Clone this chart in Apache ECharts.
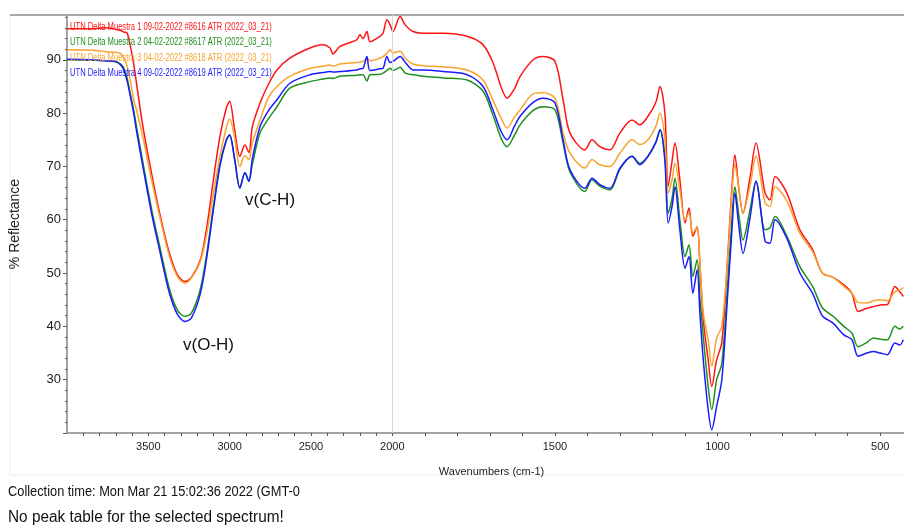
<!DOCTYPE html>
<html>
<head>
<meta charset="utf-8">
<title>UTN Delta Muestra ATR</title>
<script src="https://cdn.jsdelivr.net/npm/echarts@6.0.0/dist/echarts.min.js"></script>
<style>
  html, body { margin: 0; padding: 0; background: #fff; }
  #chart { width: 904px; height: 530px; }
</style>
</head>
<body>
<div id="chart"></div>
<script>
// wavenumbers (cm-1)
const wavenumbers = [
  4000, 3850, 3760, 3700, 3670, 3650, 3630, 3610, 3590, 3570,
  3530, 3480, 3430, 3370, 3320, 3275, 3235, 3180, 3140, 3100,
  3060, 3020, 3000, 2970, 2937, 2906, 2882, 2860, 2813, 2760,
  2709, 2630, 2506, 2426, 2383, 2365, 2322, 2217, 2199, 2180,
  2156, 2137, 2076, 2057, 2033, 2014, 1998, 1976, 1960, 1936,
  1905, 1844, 1770, 1721, 1690, 1665, 1647, 1625, 1607, 1567,
  1537, 1500, 1475, 1454, 1408, 1386, 1362, 1331, 1300, 1263,
  1239, 1214, 1190, 1177, 1162, 1152, 1140, 1131, 1116, 1100,
  1088, 1076, 1063, 1054, 1044, 1029, 1018, 1003, 987, 970,
  956, 947, 935, 922, 900, 882, 854, 839, 823, 787,
  747, 708, 678, 645, 612, 587, 568, 541, 521, 500,
  478, 455, 440, 429
];

// % reflectance per sample
const muestra1 = [
  95.8, 95.8, 96.0, 95.7, 95.5, 95.2, 95.0, 92.5, 89.3, 85.0,
  76.9, 68.7, 61.2, 53.7, 49.6, 48.4, 49.2, 52.5, 58.7, 67.5,
  75.6, 81.0, 82.2, 77.0, 71.9, 74.0, 72.6, 77.5, 81.9, 85.5,
  88.1, 90.3, 92.2, 92.8, 92.2, 91.1, 92.5, 93.8, 94.7, 94.0,
  95.3, 93.4, 94.4, 95.0, 97.5, 96.6, 95.3, 98.1, 96.5, 95.3,
  95.0, 95.0, 94.4, 92.8, 89.4, 84.8, 82.8, 84.5, 86.9, 90.0,
  90.6, 89.7, 82.5, 76.3, 73.1, 75.0, 73.7, 73.1, 76.3, 78.7,
  77.8, 79.4, 82.0, 85.0, 80.0, 66.2, 71.0, 74.4, 67.5, 59.4,
  62.2, 56.9, 58.7, 51.2, 41.2, 33.7, 28.7, 33.7, 37.0, 52.0,
  66.0, 72.2, 66.0, 61.2, 68.1, 74.4, 65.0, 63.7, 68.1, 65.0,
  58.1, 54.4, 50.0, 49.2, 47.8, 46.2, 42.8, 43.4, 43.7, 44.0,
  44.1, 47.5, 46.5, 45.6
];
const muestra2 = [
  90.0, 89.9, 89.8, 89.6, 89.2, 88.4, 86.5, 83.5, 80.5, 77.0,
  70.2, 62.0, 55.0, 47.0, 43.0, 41.9, 42.5, 47.0, 53.8, 62.5,
  70.5, 75.0, 75.9, 71.5, 65.9, 68.8, 67.2, 70.5, 76.3, 79.0,
  81.2, 84.7, 85.9, 86.4, 86.6, 86.5, 86.9, 87.1, 87.2, 87.2,
  86.0, 87.2, 87.3, 87.5, 88.0, 88.4, 88.0, 88.6, 87.5, 87.2,
  86.9, 86.6, 86.2, 84.1, 79.5, 75.2, 73.7, 75.8, 77.8, 80.5,
  81.2, 80.6, 74.4, 69.0, 65.3, 67.5, 66.3, 65.6, 69.5, 71.9,
  70.6, 71.9, 74.5, 76.9, 72.0, 61.2, 64.0, 67.8, 60.0, 53.1,
  55.3, 49.4, 52.5, 45.0, 38.1, 28.7, 24.4, 30.0, 33.0, 47.0,
  60.0, 66.2, 61.0, 56.2, 62.0, 67.2, 58.1, 58.5, 60.6, 56.9,
  51.2, 47.5, 43.5, 41.9, 40.0, 38.7, 36.2, 37.0, 37.8, 37.6,
  37.5, 40.0, 39.5, 40.0
];
const muestra3 = [
  91.9, 91.8, 91.5, 91.4, 91.2, 90.3, 88.7, 86.0, 82.5, 80.3,
  75.0, 67.5, 60.6, 53.1, 49.3, 48.1, 49.1, 52.2, 57.5, 65.0,
  71.9, 77.3, 78.9, 75.5, 70.0, 72.0, 71.3, 74.5, 78.7, 83.0,
  85.0, 86.9, 88.4, 88.8, 89.0, 88.8, 89.2, 89.5, 89.6, 89.7,
  90.2, 89.8, 90.3, 90.6, 91.2, 91.9, 91.3, 91.6, 90.3, 89.2,
  88.9, 88.7, 88.1, 86.2, 82.3, 79.0, 77.2, 79.2, 80.6, 83.6,
  83.8, 82.8, 76.3, 72.5, 69.7, 71.3, 70.3, 70.0, 72.5, 75.0,
  74.1, 75.0, 77.5, 80.0, 75.0, 65.0, 67.5, 70.6, 65.6, 60.0,
  61.2, 57.5, 58.7, 51.5, 42.5, 37.5, 32.5, 37.8, 40.0, 52.0,
  65.0, 70.3, 66.0, 61.2, 66.5, 71.9, 63.1, 62.5, 66.2, 63.5,
  57.5, 54.0, 50.0, 49.2, 47.5, 46.2, 44.5, 44.4, 44.8, 45.0,
  44.8, 46.5, 46.8, 47.3
];
const muestra4 = [
  90.1, 90.0, 89.8, 89.7, 89.0, 88.0, 86.0, 83.1, 80.0, 76.2,
  69.4, 61.2, 54.2, 46.2, 42.2, 40.9, 41.6, 46.2, 53.1, 61.9,
  70.0, 75.0, 75.9, 71.5, 66.0, 68.8, 67.2, 71.5, 77.5, 80.5,
  82.5, 85.6, 87.2, 87.6, 87.8, 87.7, 87.8, 88.1, 88.3, 88.4,
  90.6, 88.0, 88.3, 88.4, 90.6, 89.5, 89.7, 90.6, 89.5, 88.1,
  88.1, 87.8, 87.2, 85.0, 80.5, 76.5, 75.0, 77.5, 79.4, 82.0,
  82.8, 81.9, 75.0, 69.4, 65.9, 67.8, 66.6, 65.9, 69.7, 71.9,
  70.3, 71.9, 74.5, 76.9, 71.0, 59.4, 62.5, 66.2, 58.1, 50.9,
  53.1, 46.2, 50.6, 42.0, 33.7, 24.4, 20.6, 25.0, 30.0, 45.0,
  58.0, 65.0, 59.0, 53.7, 60.5, 67.2, 56.0, 55.6, 60.0, 56.5,
  50.0, 46.2, 42.0, 40.6, 38.4, 37.5, 34.4, 35.0, 35.3, 35.0,
  34.7, 36.9, 36.5, 37.5
];

const seriesNames = [
  'UTN Delta Muestra 1 09-02-2022 #8616 ATR (2022_03_21)',
  'UTN Delta Muestra 2 04-02-2022 #8617 ATR (2022_03_21)',
  'UTN Delta Muestra 3 04-02-2022 #8618 ATR (2022_03_21)',
  'UTN Delta Muestra 4 09-02-2022 #8619 ATR (2022_03_21)'
];
const seriesColors = ['#ff1414', '#1f8f1f', '#f7a330', '#1a1aff'];
const seriesValues = [muestra1, muestra2, muestra3, muestra4];

const xTickLabels = [3500, 3000, 2500, 2000, 1500, 1000, 500];
const yTickLabels = [30, 40, 50, 60, 70, 80, 90];

// the spectrometer doubles the scale below 2000 cm-1
function toAxis(wn) { return wn > 2000 ? 2000 + (wn - 2000) / 2 : wn; }
function fromAxis(u) { return u > 2000 ? 2000 + (u - 2000) * 2 : u; }

const minorTicks = [];
for (let wn = 3900; wn >= 500; wn -= 100) minorTicks.push(toAxis(wn));

const font = '"Liberation Sans", Arial, sans-serif';
const chart = echarts.init(document.getElementById('chart'));

const series = seriesNames.map((name, i) => ({
  name: name,
  type: 'line',
  showSymbol: false,
  symbol: 'none',
  smooth: 0.3,
  animation: false,
  color: seriesColors[i],
  lineStyle: { width: 1.5, color: seriesColors[i] },
  data: wavenumbers.map((wn, k) => [toAxis(wn), seriesValues[i][k]])
}));
series[0].markLine = {
  silent: true,
  symbol: ['none', 'none'],
  label: { show: false },
  lineStyle: { color: '#d6d6d6', width: 1, type: 'solid' },
  data: [{ xAxis: toAxis(2000) }]
};

const legendTexts = seriesNames.map((name, i) => ({
  type: 'text',
  x: 70,
  y: 27 + i * 15.5,
  scaleX: 0.76,
  z: 10,
  style: {
    text: name,
    fill: seriesColors[i],
    font: '10px ' + font,
    verticalAlign: 'middle'
  }
}));

chart.setOption({
  animation: false,
  grid: { left: 67, right: 0, top: 15, bottom: 97 },
  xAxis: {
    type: 'value',
    inverse: true,
    min: 427,
    max: 3000,
    name: 'Wavenumbers (cm-1)',
    nameLocation: 'middle',
    nameGap: 33,
    nameTextStyle: { fontFamily: font, fontSize: 11, color: '#222', padding: [0, 0, 0, 12] },
    axisLine: { lineStyle: { color: '#a3a3a3', width: 2 } },
    axisTick: { customValues: minorTicks, length: 3, lineStyle: { color: '#555' } },
    axisLabel: {
      customValues: xTickLabels.map(toAxis),
      formatter: (u) => String(Math.round(fromAxis(u))),
      fontFamily: font, fontSize: 11, color: '#222', margin: 8
    },
    splitLine: { show: false }
  },
  yAxis: {
    type: 'value',
    min: 20,
    max: 98.4,
    interval: 10,
    name: '% Reflectance',
    nameLocation: 'middle',
    nameGap: 45,
    nameTextStyle: { fontFamily: font, fontSize: 14, color: '#222' },
    axisLine: { show: true, lineStyle: { color: '#a3a3a3', width: 2 } },
    axisTick: { show: true, length: 4, lineStyle: { color: '#555' } },
    minorTick: { show: true, splitNumber: 5, length: 2, lineStyle: { color: '#555' } },
    axisLabel: {
      customValues: yTickLabels,
      fontFamily: font, fontSize: 13, color: '#222', margin: 6
    },
    splitLine: { show: false }
  },
  series: series,
  graphic: [
    { type: 'rect', z: -1, shape: { x: 10, y: 15, width: 900, height: 460 },
      style: { fill: 'none', stroke: '#ececec', lineWidth: 1 } },
    { type: 'line', z: 5, shape: { x1: 10, y1: 15, x2: 904, y2: 15 },
      style: { stroke: '#a8a8a8', lineWidth: 2 } },
    ...legendTexts,
    { type: 'text', x: 245, y: 200, z: 10,
      style: { text: 'v(C-H)', font: '17px ' + font, fill: '#111', verticalAlign: 'middle' } },
    { type: 'text', x: 183, y: 345, z: 10,
      style: { text: 'v(O-H)', font: '17px ' + font, fill: '#111', verticalAlign: 'middle' } },
    { type: 'text', x: 8, y: 492, scaleX: 0.915,
      style: { text: 'Collection time: Mon Mar 21 15:02:36 2022 (GMT-0', font: '14px ' + font, fill: '#111', verticalAlign: 'middle' } },
    { type: 'text', x: 8, y: 518, scaleX: 0.96,
      style: { text: 'No peak table for the selected spectrum!', font: '16px ' + font, fill: '#111', verticalAlign: 'middle' } }
  ]
});
</script>
</body>
</html>
